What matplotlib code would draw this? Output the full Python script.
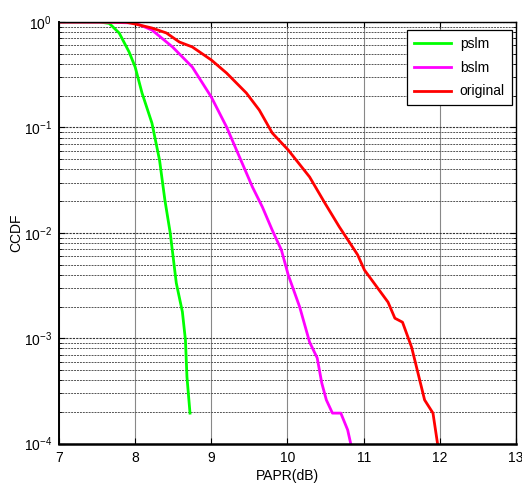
import matplotlib
matplotlib.use("Agg")
import matplotlib.pyplot as plt
from matplotlib.ticker import LogLocator, NullFormatter, FixedLocator

plt.rcParams['font.family'] = ['Liberation Sans', 'DejaVu Sans']
plt.rcParams['mathtext.fontset'] = 'custom'
plt.rcParams['mathtext.rm'] = 'Liberation Sans'

pslm_x = [7.0, 7.53, 7.66, 7.79, 7.92, 8.0, 8.09, 8.22, 8.32, 8.39, 8.46, 8.54, 8.62, 8.66, 8.68, 8.72]
pslm_y = [1.0, 1.0, 0.97, 0.787, 0.52, 0.374, 0.212, 0.110, 0.049, 0.0205, 0.010, 0.00334, 0.00178, 0.00096, 0.00043, 0.000195]

bslm_x = [7.0, 7.6, 8.0, 8.22, 8.49, 8.75, 9.0, 9.2, 9.37, 9.54, 9.67, 9.80, 9.92, 10.01, 10.16, 10.29,
          10.39, 10.45, 10.51, 10.59, 10.70, 10.79, 10.83]
bslm_y = [1.0, 0.998, 0.978, 0.84, 0.58, 0.374, 0.194, 0.101, 0.0524, 0.0272, 0.0176, 0.0106, 0.00687,
          0.00398, 0.00198, 0.00092, 0.00065, 0.000376, 0.00026, 0.000195, 0.000195, 0.000135, 0.0001]

orig_x = [7.0, 7.6, 7.88, 8.0, 8.22, 8.41, 8.58, 8.75, 9.0, 9.2, 9.46, 9.63, 9.80, 10.01, 10.29, 10.49,
          10.68, 10.82, 10.92, 11.01, 11.32, 11.41, 11.51, 11.63, 11.80, 11.91, 11.97]
orig_y = [1.0, 1.0, 0.995, 0.957, 0.877, 0.787, 0.646, 0.58, 0.436, 0.328, 0.212, 0.146, 0.0885, 0.061,
          0.0339, 0.0192, 0.0114, 0.008, 0.0062, 0.00444, 0.0022, 0.00155, 0.00142, 0.00082, 0.00026,
          0.000195, 0.0001]

labels = ['pslm', 'bslm', 'original']
colors = ['#00ff00', '#ff00ff', '#ff0000']
x_ticks = [7, 8, 9, 10, 11, 12, 13]

fig = plt.figure(figsize=(5.22, 4.88), dpi=100)
ax = fig.add_axes([59/522, 1-443.7/488, (516-59)/522, (443.7-22)/488])

for xs, ys, c, lab in zip([pslm_x, bslm_x, orig_x], [pslm_y, bslm_y, orig_y], colors, labels):
    ax.plot(xs, ys, color=c, lw=2, label=lab)

ax.set_yscale('log')
ax.set_xlim(7, 13)
ax.set_ylim(1e-4, 1)
ax.xaxis.set_major_locator(FixedLocator(x_ticks))
ax.yaxis.set_major_locator(LogLocator(base=10, numticks=10))
ax.yaxis.set_minor_locator(LogLocator(base=10, subs=range(2, 10), numticks=20))
ax.yaxis.set_minor_formatter(NullFormatter())

ax.grid(True, axis='x', which='major', color='#888888', lw=0.8, ls='-')
ax.grid(True, axis='y', which='major', color='#333333', lw=0.8, ls=(0, (2, 1)))
ax.grid(True, axis='y', which='minor', color='#555555', lw=0.7, ls=(0, (2, 1)))

ax.tick_params(which='both', direction='in', top=True, right=True, labelsize=10, pad=5)
ax.tick_params(which='major', length=4)
ax.tick_params(which='minor', length=2.5)
for s in ax.spines.values():
    s.set_linewidth(1.0)
ax.spines['bottom'].set_linewidth(1.8)
ax.spines['left'].set_linewidth(1.4)

ax.set_xlabel('PAPR(dB)', fontsize=10, labelpad=3)
ax.set_ylabel('CCDF', fontsize=10)
ax.yaxis.set_label_coords(-36/457, 0.5)

leg = ax.legend(loc='upper right', bbox_to_anchor=(0.991, 0.981), borderaxespad=0, fontsize=10,
                frameon=True, fancybox=False, edgecolor='black', framealpha=1, handlelength=2.7,
                borderpad=0.5, labelspacing=0.7, handletextpad=0.6)
leg.get_frame().set_linewidth(0.9)

fig.savefig('out.png', dpi=100)
